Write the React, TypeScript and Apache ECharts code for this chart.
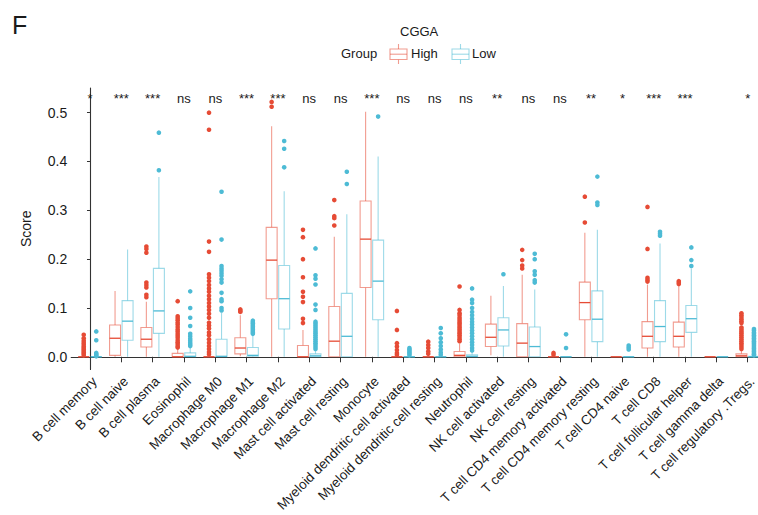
import React, { useEffect, useRef } from "react";
import * as echarts from "echarts";

const categories = [
  "B cell memory", "B cell naive", "B cell plasma", "Eosinophil", "Macrophage M0", "Macrophage M1",
  "Macrophage M2", "Mast cell activated", "Mast cell resting", "Monocyte",
  "Myeloid dendritic cell activated", "Myeloid dendritic cell resting", "Neutrophil",
  "NK cell activated", "NK cell resting", "T cell CD4 memory activated", "T cell CD4 memory resting",
  "T cell CD4 naive", "T cell CD8", "T cell follicular helper", "T cell gamma delta",
  "T cell regulatory .Tregs.",
];
const groups = ["High", "Low"];
const significance = ["*", "***", "***", "ns", "ns", "***", "***", "ns", "ns", "***", "ns", "ns", "ns", "**", "ns", "ns", "**", "*", "***", "***", "", "*"];
const yTicks = [0, 0.1, 0.2, 0.3, 0.4, 0.5];

// [lower whisker, Q1, median, Q3, upper whisker]
const highBoxes = [
  [0, 0, 0, 0, 0], [0, 0.003, 0.038, 0.065, 0.135], [0, 0.02, 0.036, 0.06, 0.113], [0, 0, 0, 0.007, 0.017],
  [0, 0, 0, 0, 0], [0.001, 0.006, 0.018, 0.039, 0.085], [0, 0.119, 0.198, 0.265, 0.472], [0, 0, 0, 0.023, 0.055],
  [0, 0, 0.032, 0.103, 0.246], [0, 0.142, 0.241, 0.319, 0.502], [0, 0, 0, 0, 0], [0, 0, 0, 0, 0],
  [0, 0, 0.003, 0.011, 0.027], [0.003, 0.021, 0.04, 0.067, 0.125], [0, 0, 0.028, 0.068, 0.168], [0, 0, 0, 0, 0],
  [0, 0.076, 0.111, 0.153, 0.254], [0, 0, 0, 0, 0], [0, 0.018, 0.042, 0.072, 0.148], [0, 0.02, 0.042, 0.071, 0.145],
  [0, 0, 0, 0, 0], [0, 0, 0.002, 0.006, 0.012],
];
const lowBoxes = [
  [0, 0, 0, 0, 0], [0, 0.034, 0.073, 0.115, 0.22], [0, 0.048, 0.094, 0.181, 0.368], [0, 0, 0.001, 0.008, 0.02],
  [0, 0, 0.001, 0.036, 0.09], [0, 0.001, 0.003, 0.019, 0.045], [0, 0.057, 0.119, 0.187, 0.339], [0, 0, 0.002, 0.006, 0.012],
  [0, 0, 0.042, 0.13, 0.292], [0, 0.076, 0.155, 0.239, 0.41], [0, 0, 0, 0, 0], [0, 0, 0, 0, 0],
  [0, 0, 0.001, 0.004, 0.01], [0, 0.022, 0.055, 0.08, 0.145], [0, 0, 0.021, 0.061, 0.138], [0, 0, 0, 0, 0],
  [0, 0.031, 0.077, 0.135, 0.26], [0, 0, 0, 0, 0], [0, 0.031, 0.062, 0.115, 0.232], [0, 0.05, 0.078, 0.105, 0.181],
  [0, 0, 0, 0, 0], [0, 0, 0, 0.001, 0.002],
];
const highOutliers = [
  [0.045, 0.038, 0.033, 0.029, 0.025, 0.021, 0.018, 0.015, 0.012, 0.009, 0.006, 0.003],
  [],
  [0.226, 0.221, 0.213, 0.152, 0.147, 0.142, 0.127, 0.122],
  [0.114, 0.083, 0.079, 0.075, 0.07, 0.066, 0.061, 0.056, 0.052, 0.047, 0.043, 0.039, 0.034, 0.03, 0.026, 0.022, 0.019],
  [0.5, 0.465, 0.236, 0.215, 0.169, 0.162, 0.155, 0.147, 0.14, 0.133, 0.125, 0.118, 0.11, 0.103, 0.096, 0.088, 0.08, 0.07, 0.064, 0.058, 0.05, 0.044, 0.036, 0.029, 0.022, 0.016, 0.01, 0.005],
  [0.097, 0.094, 0.092],
  [0.522, 0.512],
  [0.26, 0.245, 0.2, 0.163, 0.133, 0.123, 0.112, 0.078, 0.069],
  [0.321, 0.288, 0.284, 0.269],
  [],
  [0.094, 0.055, 0.028, 0.021, 0.014, 0.008, 0.004],
  [0.031, 0.024, 0.018, 0.011, 0.006],
  [0.144, 0.096, 0.089, 0.085, 0.08, 0.076, 0.072, 0.068, 0.064, 0.06, 0.056, 0.052, 0.048, 0.044, 0.04, 0.036, 0.032],
  [],
  [0.219, 0.198, 0.187, 0.181],
  [0.008, 0.004],
  [0.328, 0.275],
  [],
  [0.307, 0.221, 0.162, 0.158, 0.154],
  [0.155, 0.152, 0.149],
  [],
  [0.089, 0.085, 0.081, 0.077, 0.073, 0.069, 0.06, 0.056, 0.052, 0.048, 0.044, 0.04, 0.036, 0.032, 0.028, 0.024, 0.02, 0.016],
];
const lowOutliers = [
  [0.052, 0.034, 0.008, 0.005, 0.003, 0.001],
  [],
  [0.459, 0.382],
  [0.134, 0.1, 0.08, 0.063, 0.047, 0.042, 0.037, 0.033, 0.029, 0.025, 0.022],
  [0.338, 0.24, 0.186, 0.181, 0.176, 0.171, 0.166, 0.159, 0.152, 0.131, 0.118, 0.114, 0.1, 0.095],
  [0.074, 0.071, 0.068, 0.065, 0.062, 0.059, 0.056, 0.053, 0.05, 0.047],
  [0.442, 0.426, 0.388],
  [0.222, 0.167, 0.16, 0.148, 0.107, 0.096, 0.072, 0.068, 0.064, 0.06, 0.056, 0.052, 0.048, 0.044, 0.04, 0.036, 0.032, 0.028, 0.024, 0.02, 0.016],
  [0.379, 0.354],
  [0.492],
  [0.018, 0.015, 0.012, 0.009, 0.006, 0.003],
  [0.059, 0.048, 0.038, 0.03, 0.022, 0.015, 0.009, 0.004],
  [0.14, 0.117, 0.11, 0.1, 0.092, 0.085, 0.078, 0.072, 0.066, 0.06, 0.054, 0.048, 0.042, 0.036, 0.03, 0.024, 0.018, 0.013],
  [0.169],
  [0.211, 0.2, 0.175, 0.168, 0.157, 0.152],
  [0.046, 0.018],
  [0.369, 0.316, 0.311],
  [0.023, 0.019, 0.015],
  [0.256, 0.252, 0.248],
  [0.224, 0.198, 0.186],
  [],
  [0.057, 0.054, 0.05, 0.047, 0.044, 0.041, 0.038, 0.035, 0.032, 0.029, 0.026, 0.023, 0.02, 0.017, 0.014, 0.011, 0.008, 0.005, 0.003],
];

const FONT = "'Liberation Sans', Arial, Helvetica, sans-serif";
const RED = "#E64B35";
const CYAN = "#4DBBD5";
const RED_LIGHT = "rgba(230,75,53,0.55)";
const CYAN_LIGHT = "rgba(77,187,213,0.55)";
const DODGE = 0.2;
const HALF_W = 0.175;

function boxSeries(name: string, stats: number[][], offset: number, stroke: string, median: string) {
  return {
    type: "custom",
    name,
    data: stats.map((s, i) => [i, ...s]),
    encode: { x: 0, y: [1, 2, 3, 4, 5] },
    renderItem: (_p: any, api: any) => {
      const i = api.value(0);
      const unit = api.size([1, 0])[0];
      const cx = api.coord([i, 0])[0] + offset * unit;
      const hw = HALF_W * unit;
      const y = (k: number) => api.coord([i, api.value(k)])[1];
      const lo = y(1), q1 = y(2), md = y(3), q3 = y(4), hi = y(5);
      const lw = 1.1;
      return {
        type: "group",
        children: [
          { type: "line", shape: { x1: cx, y1: hi, x2: cx, y2: q3 }, style: { stroke, lineWidth: lw } },
          { type: "line", shape: { x1: cx, y1: q1, x2: cx, y2: lo }, style: { stroke, lineWidth: lw } },
          { type: "rect", shape: { x: cx - hw, y: q3, width: 2 * hw, height: Math.max(q1 - q3, 0) }, style: { fill: "#fff", stroke, lineWidth: lw } },
          { type: "line", shape: { x1: cx - hw, y1: md, x2: cx + hw, y2: md }, style: { stroke: median, lineWidth: 1.3 } },
        ],
      };
    },
    z: 2,
  };
}

function outlierSeries(name: string, lists: number[][], offset: number, color: string) {
  const data: number[][] = [];
  lists.forEach((arr, i) => arr.forEach((v) => data.push([i, v])));
  return {
    type: "custom",
    name,
    data,
    encode: { x: 0, y: 1 },
    renderItem: (_p: any, api: any) => {
      const unit = api.size([1, 0])[0];
      const p = api.coord([api.value(0), api.value(1)]);
      return { type: "circle", shape: { cx: p[0] + offset * unit, cy: p[1], r: 2.3 }, style: { fill: color } };
    },
    clip: false,
    z: 3,
  };
}

function legendGraphics() {
  const items: any[] = [];
  items.push({ type: "text", left: 400, top: 25, style: { text: "CGGA", font: `13px ${FONT}`, fill: "#1a1a1a" } });
  items.push({ type: "text", left: 341, top: 47, style: { text: "Group", font: `13px ${FONT}`, fill: "#1a1a1a" } });
  const keys = [
    { x: 390, color: RED_LIGHT, textX: 411 },
    { x: 452, color: CYAN_LIGHT, textX: 472 },
  ];
  keys.forEach((k, idx) => {
    const cx = k.x + 8.5;
    items.push({ type: "line", shape: { x1: cx, y1: 44, x2: cx, y2: 49 }, style: { stroke: k.color, lineWidth: 1.1 } });
    items.push({ type: "line", shape: { x1: cx, y1: 59.5, x2: cx, y2: 64 }, style: { stroke: k.color, lineWidth: 1.1 } });
    items.push({ type: "rect", shape: { x: k.x, y: 49, width: 17, height: 10.5 }, style: { fill: "#fff", stroke: k.color, lineWidth: 1.1 } });
    items.push({ type: "line", shape: { x1: k.x, y1: 54.2, x2: k.x + 17, y2: 54.2 }, style: { stroke: k.color, lineWidth: 1.1 } });
    items.push({ type: "text", left: k.textX, top: 47, style: { text: groups[idx], font: `13px ${FONT}`, fill: "#1a1a1a" } });
  });
  items.push({ type: "text", left: 12, top: 12, style: { text: "F", font: `25px ${FONT}`, fill: "#1a1a1a" } });
  return items;
}

export default function App() {
  const ref = useRef<HTMLDivElement>(null);
  useEffect(() => {
    if (!ref.current) return;
    const chart = echarts.init(ref.current, undefined, { renderer: "svg" });
    const axisColor = "#333";
    chart.setOption({
      animation: false,
      backgroundColor: "#fff",
      textStyle: { fontFamily: FONT },
      grid: { left: 71.2, top: 88, width: 695.3, height: 281.5, containLabel: false, outerBoundsMode: "none" },
      xAxis: {
        type: "value",
        min: -0.6,
        max: 21.6,
        splitLine: { show: false },
        axisLine: { lineStyle: { color: axisColor, width: 1.1 } },
        axisTick: { customValues: categories.map((_, i) => i), length: 5.5, lineStyle: { color: axisColor } },
        axisLabel: {
          customValues: categories.map((_, i) => i),
          formatter: (v: number) => categories[Math.round(v)],
          rotate: 45,
          fontSize: 13.4,
          color: "#1a1a1a",
          margin: 5,
          align: "right",
          verticalAlign: "top",
          fontFamily: FONT,
        },
      },
      yAxis: {
        type: "value",
        min: -0.026,
        max: 0.5505,
        name: "Score",
        nameLocation: "middle",
        nameGap: 38,
        nameTextStyle: { fontSize: 14, color: "#1a1a1a", fontFamily: FONT },
        splitLine: { show: false },
        axisLine: { lineStyle: { color: axisColor, width: 1.1 } },
        axisTick: { customValues: yTicks, length: 3, lineStyle: { color: axisColor } },
        axisLabel: {
          customValues: yTicks,
          formatter: (v: number) => v.toFixed(1),
          fontSize: 14,
          color: "#1a1a1a",
          margin: 4,
          fontFamily: FONT,
        },
      },
      graphic: legendGraphics(),
      series: [
        boxSeries("High", highBoxes, -DODGE, RED_LIGHT, RED),
        boxSeries("Low", lowBoxes, DODGE, CYAN_LIGHT, CYAN),
        outlierSeries("High outliers", highOutliers, -DODGE, RED),
        outlierSeries("Low outliers", lowOutliers, DODGE, CYAN),
        {
          type: "custom",
          name: "significance",
          data: significance.map((s, i) => [i, 0.516, s]),
          encode: { x: 0, y: 1 },
          renderItem: (_p: any, api: any) => {
            const i = api.value(0);
            const p = api.coord([i, api.value(1)]);
            return {
              type: "text",
              x: p[0],
              y: p[1],
              style: { text: significance[i], font: `13px ${FONT}`, fill: "#1a1a1a", align: "center", verticalAlign: "bottom" },
            };
          },
          z: 4,
        },
      ],
    });
    return () => chart.dispose();
  }, []);
  return <div ref={ref} style={{ position: "absolute", left: 0, top: 0, width: 758, height: 515 }} />;
}
